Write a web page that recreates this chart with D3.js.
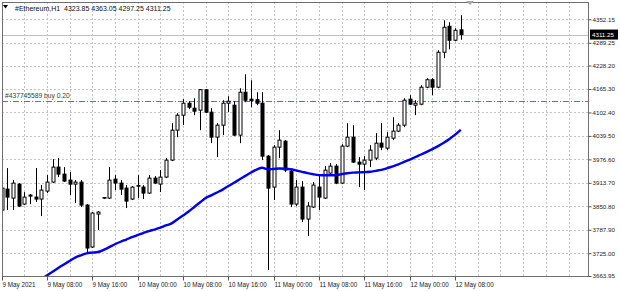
<!DOCTYPE html>
<html><head><meta charset="utf-8">
<script src="https://cdn.jsdelivr.net/npm/d3@7"></script>
<style>
html,body{margin:0;padding:0;background:#fff;}
svg{display:block;font-family:"Liberation Sans",Arial,sans-serif;}
</style></head>
<body>
<svg id="chart" width="620" height="291"></svg>
<script>
// ---- data ----
const symbolTitle = "#Ethereum,H1";
const lastOHLC = [4323.85, 4363.05, 4297.25, 4311.25];
const timeLabels = ["9 May 2021","9 May 08:00","9 May 16:00","10 May 00:00","10 May 08:00","10 May 16:00","11 May 00:00","11 May 08:00","11 May 16:00","12 May 00:00","12 May 08:00"];
const timeLabelBars = [0,8,16,24,32,40,48,56,64,72,80];
const priceTicks = [4352.15,4289.25,4228.20,4165.30,4102.40,4039.50,3976.60,3913.70,3850.80,3787.90,3725.00,3663.95];
const orderLevel = 4134.0;
const orderLabel = "#437745589 buy 0.20";

const open = [3840.7,3896.9,3872.8,3910.3,3856.8,3880.9,3875.5,3870.2,3891.6,3915.7,
3955.9,3937.1,3921.0,3910.3,3915.7,3854.1,3741.6,3830.0,3872.8,3872.8,
3923.7,3913.0,3899.6,3870.2,3905.0,3902.3,3886.2,3926.4,3910.3,3929.1,
3974.6,4054.9,4095.1,4127.2,4113.9,4108.5,4163.4,4103.1,4036.2,4068.3,
4127.2,4121.9,4041.6,4156.7,4138.0,4136.6,4127.2,3985.3,3902.3,4009.4,
4025.5,3945.1,3856.8,3902.3,3816.6,3848.7,3902.3,3872.8,3939.8,3958.5,
3913.0,4012.1,4036.2,3969.2,3963.9,3974.6,3980.0,4020.1,4006.7,4033.5,
4052.3,4068.3,4138.0,4121.9,4124.6,4170.1,4190.2,4170.1,4263.8,4333.5,
4296.0,4323.85];
const high = [3907.7,3953.2,3921.0,3913.0,3888.9,3883.6,3953.2,3907.7,3934.4,3977.3,
3980.0,3955.9,3942.5,3921.0,3921.0,3856.8,3835.3,3838.0,3875.5,3955.9,
3934.4,3921.0,3907.7,3905.0,3934.4,3907.7,3934.4,3931.8,3947.8,3980.0,
4073.7,4100.5,4138.0,4132.6,4140.6,4164.7,4164.7,4113.9,4073.7,4135.3,
4146.0,4132.6,4167.4,4204.9,4188.8,4156.7,4156.7,3988.0,4014.8,4054.9,
4028.2,3947.8,3921.0,3918.4,3862.1,3915.7,3934.4,3958.5,3966.6,3963.9,
4017.4,4073.7,4068.3,3982.6,3985.3,4014.8,4046.9,4073.7,4049.6,4089.8,
4073.7,4140.6,4148.7,4135.3,4175.5,4194.2,4194.2,4269.2,4349.5,4344.2,
4328.1,4363.05];
const low = [3835.3,3840.7,3840.7,3848.7,3854.1,3856.8,3862.1,3824.6,3886.2,3913.0,
3929.1,3915.7,3880.9,3859.4,3848.7,3725.5,3738.9,3787.1,3870.2,3870.2,
3894.3,3880.9,3846.1,3867.5,3872.8,3870.2,3883.6,3910.3,3888.9,3926.4,
3971.9,4036.2,4068.3,4111.2,4095.1,4054.9,4100.5,4020.1,3982.6,4041.6,
4103.1,4038.9,4020.1,4129.9,4116.5,4121.9,3974.6,3680.0,3867.5,3980.0,
3942.5,3848.7,3851.4,3808.6,3771.1,3846.1,3840.7,3870.2,3934.4,3910.3,
3910.3,4009.4,3966.6,3902.3,3894.3,3955.9,3974.6,4001.4,4001.4,4028.2,
4049.6,4063.0,4121.9,4095.1,4121.9,4167.4,4148.7,4167.4,4247.8,4271.9,
4293.3,4297.25];
const close = [3899.6,3875.5,3913.0,3851.4,3875.5,3878.2,3870.2,3894.3,3915.7,3955.9,
3937.1,3918.4,3910.3,3915.7,3854.1,3738.9,3832.7,3835.3,3874.2,3921.0,
3913.0,3896.9,3864.8,3902.3,3906.3,3886.2,3926.4,3913.0,3929.1,3974.6,
4054.9,4095.1,4127.2,4116.5,4105.8,4163.4,4103.1,4036.2,4068.3,4127.2,
4132.6,4041.6,4156.7,4135.3,4133.9,4127.2,3985.3,3899.6,4009.4,4028.2,
3947.8,3856.8,3902.3,3816.6,3851.4,3907.7,3875.5,3947.8,3958.5,3913.0,
4012.1,4036.2,3969.2,3963.9,3974.6,4001.4,4020.1,4009.4,4036.2,4052.3,
4068.3,4135.3,4124.6,4127.2,4170.1,4190.2,4170.1,4263.8,4330.8,4296.0,
4322.7,4311.25];
// moving average, starting at bar 7
const maStart = 7;
const ma = [3655.4,3665.6,3675.5,3685.6,3695.0,3704.1,3713.2,3719.4,3724.7,3726.6,
3728.2,3733.9,3741.3,3749.1,3755.8,3761.7,3767.9,3773.5,3779.1,3784.5,
3788.5,3793.8,3799.5,3805.1,3815.5,3826.0,3836.7,3849.0,3861.1,3872.8,
3880.3,3887.8,3895.6,3905.0,3913.8,3923.2,3932.3,3941.4,3949.2,3954.0,
3950.0,3951.0,3952.1,3951.6,3950.0,3946.8,3943.3,3939.8,3936.6,3934.4,
3933.9,3933.9,3934.4,3937.1,3939.5,3941.1,3941.7,3942.5,3943.3,3945.9,
3948.6,3952.9,3957.7,3963.1,3969.8,3975.9,3982.9,3989.6,3996.8,4004.3,
4012.1,4021.2,4031.4,4042.9,4056.0];

// ---- layout ----
const L = 2, R = 589, T = 2, B = 276.5;
const svg = d3.select("#chart");
const x = d3.scaleLinear().domain([0, 80]).range([1.5, 455.1]);
const y = d3.scaleLinear().domain([3663.95, 4352.15]).range([276, 19.3]);

const defs = svg.append("defs");
defs.append("clipPath").attr("id","plot").append("rect")
  .attr("x",L).attr("y",T).attr("width",R-L).attr("height",B-T);

const grid = svg.append("g").attr("stroke","#c4c4c4").attr("stroke-width",1).attr("stroke-dasharray","2,2");
const vbars = d3.range(4, 104, 4).filter(i => x(i) < R - 1);
grid.selectAll("line.v").data(vbars).join("line")
  .attr("x1", d => Math.round(x(d)) + 0.5).attr("x2", d => Math.round(x(d)) + 0.5)
  .attr("y1", T).attr("y2", B);
grid.selectAll("line.h").data(priceTicks.slice(0, -1)).join("line")
  .attr("x1", L).attr("x2", R)
  .attr("y1", d => Math.round(y(d)) + 0.5).attr("y2", d => Math.round(y(d)) + 0.5);

const plot = svg.append("g").attr("clip-path","url(#plot)");

// current price line
plot.append("line").attr("x1",L).attr("x2",R)
  .attr("y1", Math.round(y(lastOHLC[3])) + 0.5).attr("y2", Math.round(y(lastOHLC[3])) + 0.5)
  .attr("stroke","#c0c0c0").attr("stroke-width",1);

// order level line
plot.append("line").attr("x1",L).attr("x2",R)
  .attr("y1", Math.round(y(orderLevel)) + 0.5).attr("y2", Math.round(y(orderLevel)) + 0.5)
  .attr("stroke","#3a9a44").attr("stroke-width",1).attr("stroke-dasharray","6,2,1,2");
svg.append("text").attr("x",5).attr("y",Math.round(y(orderLevel)) - 3)
  .attr("font-size","6.7px").attr("fill","#2c3f2c").text(orderLabel);

// candles
const bars = d3.range(open.length);
const cg = plot.append("g");
cg.selectAll("line.w").data(bars).join("line")
  .attr("x1", i => Math.round(x(i)) + 0.5).attr("x2", i => Math.round(x(i)) + 0.5)
  .attr("y1", i => y(high[i])).attr("y2", i => y(low[i]))
  .attr("stroke","#000").attr("stroke-width",1);
cg.selectAll("rect.b").data(bars).join("rect")
  .attr("x", i => Math.round(x(i)) - 1)
  .attr("width", 3)
  .attr("y", i => y(Math.max(open[i], close[i])))
  .attr("height", i => Math.max(0.6, Math.abs(y(open[i]) - y(close[i]))))
  .attr("fill", i => close[i] >= open[i] ? "#fff" : "#000")
  .attr("stroke","#000").attr("stroke-width",1);

// moving average
const maLine = d3.line().x((d, k) => x(k + maStart)).y(d => y(d)).curve(d3.curveMonotoneX);
plot.append("path").datum(ma).attr("d", maLine)
  .attr("fill","none").attr("stroke","#0000ee").attr("stroke-width",2.4)
  .attr("stroke-linejoin","round");

// frame
svg.append("rect").attr("x",L+0.5).attr("y",T+0.5).attr("width",R-L-1).attr("height",B-T-0.5)
  .attr("fill","none").attr("stroke","#707070").attr("stroke-width",1);

// axes
const yAxis = d3.axisRight(y).tickValues(priceTicks).tickSize(3).tickPadding(1)
  .tickFormat(d => d.toFixed(2));
const ya = svg.append("g").attr("transform",`translate(${R - 0.5},0)`).call(yAxis);
ya.select(".domain").remove();
ya.selectAll("line").attr("stroke","#555");
ya.selectAll("text").attr("font-size","6.2px").attr("fill","#222")
  .attr("font-family","Liberation Sans, Arial, sans-serif");

const xAxis = d3.axisBottom(x).tickValues(timeLabelBars).tickSize(4).tickPadding(2)
  .tickFormat((d, k) => timeLabels[k]);
const xa = svg.append("g").attr("transform",`translate(0,${B})`).call(xAxis);
xa.select(".domain").remove();
xa.selectAll(".tick").attr("transform", d => `translate(${Math.round(x(d)) + 0.5},0)`);
xa.selectAll("line").attr("stroke","#555");
xa.selectAll("text").attr("text-anchor","start").attr("x",0).attr("font-size","6.3px")
  .attr("fill","#222").attr("font-family","Liberation Sans, Arial, sans-serif");

// last price tag
const py = y(lastOHLC[3]);
svg.append("rect").attr("x",590).attr("y",py - 5).attr("width",28).attr("height",10).attr("fill","#000");
svg.append("text").attr("x",592).attr("y",py + 2.2).attr("font-size","6.2px").attr("fill","#fff")
  .text(lastOHLC[3].toFixed(2));

// title
svg.append("path").attr("d","M3,5 L8,5 L5.5,8.5 Z").attr("fill","#000");
svg.append("text").attr("x",15).attr("y",10.5).attr("font-size","7px").attr("fill","#111")
  .attr("xml:space","preserve")
  .text(symbolTitle + "  " + lastOHLC.map(v => v.toFixed(2)).join(" "));

// chart shift marker
svg.append("path").attr("d","M466,1 L474,1 L470,5 Z").attr("fill","#a8a8a8");
</script>
</body></html>
